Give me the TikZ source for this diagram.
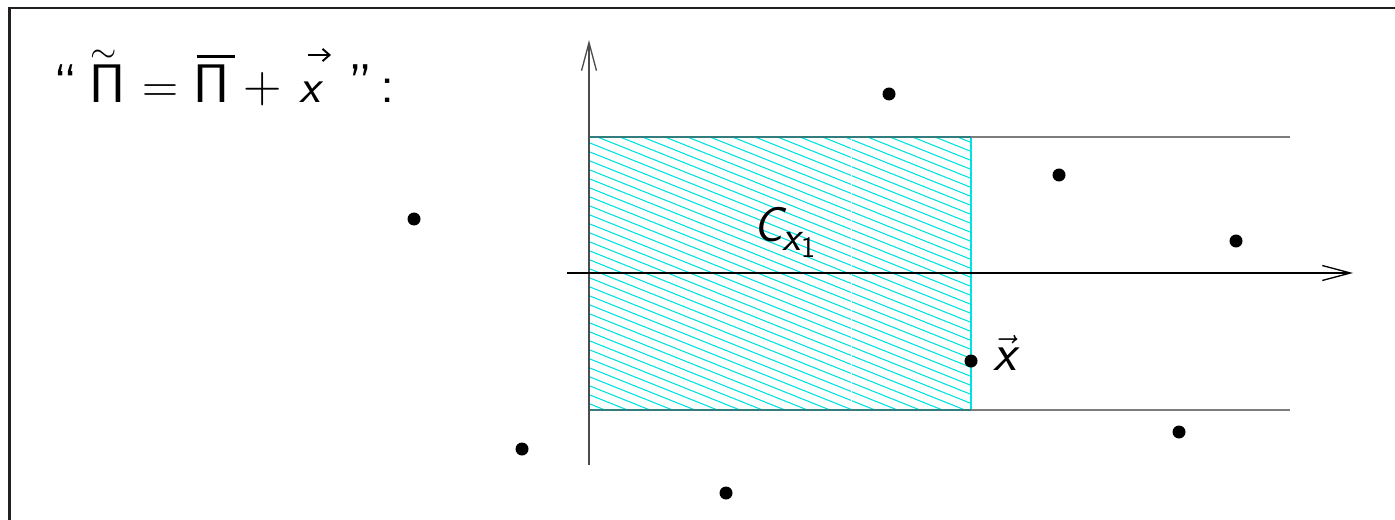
\documentclass[tikz,border=0pt]{standalone}
\usepackage{graphicx}
\usetikzlibrary{arrows.meta}
\definecolor{framecol}{RGB}{35,31,32}
\definecolor{hatchcol}{RGB}{0,225,225}
\definecolor{edgecol}{RGB}{50,125,125}
\definecolor{extcol}{RGB}{125,125,125}
\newcommand\putat[2]{\makebox[0pt][l]{\hspace*{#1}#2}}
\newcommand\bigPi{\resizebox{!}{21.5pt}{$\mathsf{\Pi}$}}
\begin{document}
\begin{tikzpicture}[x=0.02cm,y=-0.02cm,
  dot/.style={circle,fill=black,inner sep=0pt,minimum size=7.4pt},
  axis/.style={line width=0.75pt,-{Straight Barb[length=16pt,width=8.5pt,line width=0.75pt]}},
  vecarrow/.style={line width=1.1pt,-{Straight Barb[length=4pt,width=7pt,line width=1.1pt]}},
  lbl/.style={inner sep=0pt,font=\fontsize{30}{36}\selectfont\sffamily},
  titlestyle/.style={inner sep=0pt,font=\fontsize{31}{38}\selectfont\sffamily}]
\useasboundingbox (0,0) rectangle (1395,520);
% frame
\draw[framecol,line width=1.7pt] (9.5,520) -- (9.5,8) -- (1395,8);
% hatched region
\begin{scope}
  \clip (589,137) rectangle (971,410);
  \foreach \k in {0,...,50} {
    \draw[hatchcol,line width=0.6pt] (580,{137-160+\k*9}) -- (980,{137-160+\k*9+160});
  }
  \draw[white,line width=0.4pt] (851,137) -- (851,410);
\end{scope}
\draw[hatchcol,line width=0.8pt] (971,137) -- (971,410);
% extension lines
\draw[extcol,line width=1.1pt] (971,137) -- (1290,137);
\draw[extcol,line width=1.1pt] (971,410) -- (1290,410);
\draw[edgecol,line width=1.1pt] (589,137) -- (971,137);
\draw[edgecol,line width=1.1pt] (589,410) -- (971,410);
% axes
\coordinate (ys) at (589,465);
\coordinate (ye) at (589,40);
\coordinate (xs) at (567,273);
\coordinate (xe) at (1353,273);
\draw[axis,black!70] (ys) -- (ye);
\draw[axis] (xs) -- (xe);
% dots
\node[dot] (d1) at (889,94) {};
\node[dot] (d2) at (1059,175) {};
\node[dot] (d3) at (1236,241) {};
\node[dot] (d4) at (414,219) {};
\node[dot] (d5) at (522,449) {};
\node[dot] (d6) at (726,493) {};
\node[dot] (d7) at (1179,432) {};
\node[dot] (d8) at (971,361) {};
% labels
\node[lbl,anchor=base west] (cx) at (753,241) {\fontsize{28}{32}\selectfont\slshape C\raisebox{-5.5pt}{\fontsize{24}{28}\selectfont x\raisebox{-4pt}{\fontsize{17}{20}\selectfont\upshape 1}}};
\node[lbl,anchor=base west] (vx) at (993,370) {$\vec{\textsf{\slshape x}}$};
\node[titlestyle,anchor=base west] (title) at (53,103) {%
\putat{0pt}{``}%
\putat{20.5pt}{\bigPi}%
\putat{21pt}{\raisebox{23pt}{\resizebox{15pt}{!}{$\sim$}}}%
\putat{51pt}{\resizebox{20.5pt}{!}{$=$}}%
\putat{80pt}{\bigPi}%
\putat{81.5pt}{\raisebox{25.5pt}{\rule{22pt}{1.6pt}}}%
\putat{108.5pt}{\resizebox{21.8pt}{!}{$+$}}%
\putat{140pt}{\resizebox{11.8pt}{!}{\slshape x}}%
\putat{168pt}{''}%
\putat{186pt}{:}%
\hspace*{190pt}};
% vector arrow of the title's x
\coordinate (va) at ([shift={(255,-48)}]title.base west);
\coordinate (vb) at ([shift={(278,-48)}]title.base west);
\draw[vecarrow] (va) -- (vb);
\end{tikzpicture}
\end{document}
